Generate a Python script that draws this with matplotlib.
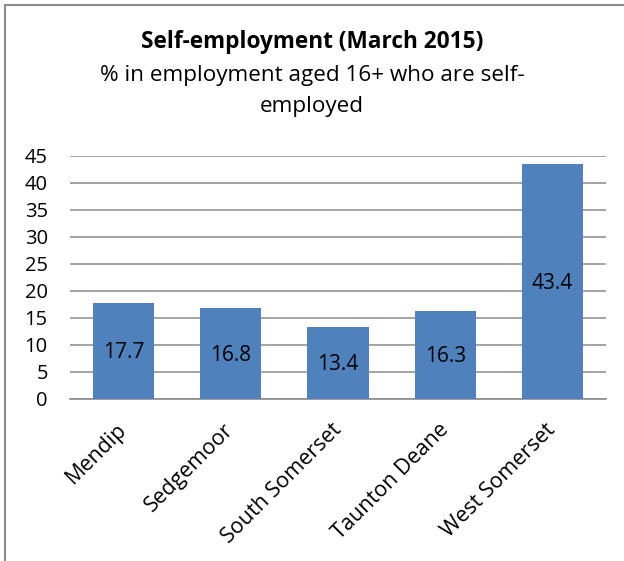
import numpy as np
import matplotlib.pyplot as plt
from matplotlib.patches import Rectangle

plt.rcParams['font.family'] = ['Open Sans', 'DejaVu Sans']

districts = ["Mendip", "Sedgemoor", "South Somerset", "Taunton Deane", "West Somerset"]
self_employed = [17.7, 16.8, 13.4, 16.3, 43.4]
y_ticks = [0, 5, 10, 15, 20, 25, 30, 35, 40, 45]

fig = plt.figure(figsize=(6.24, 5.61), dpi=100)
ax = fig.add_axes([0.1122, 0.2888, 0.859, 0.4337])

x = np.arange(len(districts))
bars = ax.bar(x, self_employed, width=0.57, color='#4F81BD', zorder=3)

for b, v in zip(bars, self_employed):
    ax.text(b.get_x() + b.get_width() / 2, v / 2 - 0.3, f"{v}",
            ha='center', va='center', fontsize=15, color='black', zorder=4)

ax.set_xlim(-0.5, len(districts) - 0.5)
ax.set_ylim(0, 45)
ax.set_yticks(y_ticks)
ax.set_yticklabels([str(t) for t in y_ticks], fontsize=14.5)
ax.set_xticks(x)
ax.set_xticklabels(districts, rotation=45, ha='right', va='center',
                   rotation_mode='anchor', fontsize=15.5)
ax.tick_params(axis='y', length=0, pad=16)
ax.tick_params(axis='x', length=0, pad=20)

ax.grid(axis='y', color='#8c8c8c', linewidth=1.1, zorder=0)
for s in ['top', 'right', 'left']:
    ax.spines[s].set_visible(False)
ax.spines['bottom'].set_color('#8c8c8c')
ax.spines['bottom'].set_linewidth(1.2)

fig.text(0.5, 1 - 42 / 561, "Self-employment (March 2015)", ha='center', va='center',
         fontsize=16.3, fontweight='bold')
fig.text(0.5, 1 - 76 / 561, "% in employment aged 16+ who are self-", ha='center', va='center',
         fontsize=16.2)
fig.text(0.5, 1 - 107 / 561, "employed", ha='center', va='center', fontsize=16.2)

# outer chart border (cropped at right and bottom)
fig.patches.append(Rectangle((5 / 624, -0.1), 1.2, 1 - 5 / 561 + 0.1, transform=fig.transFigure,
                             fill=False, edgecolor='#8c8c8c', linewidth=1.5))

fig.savefig('out.png', dpi=100)
